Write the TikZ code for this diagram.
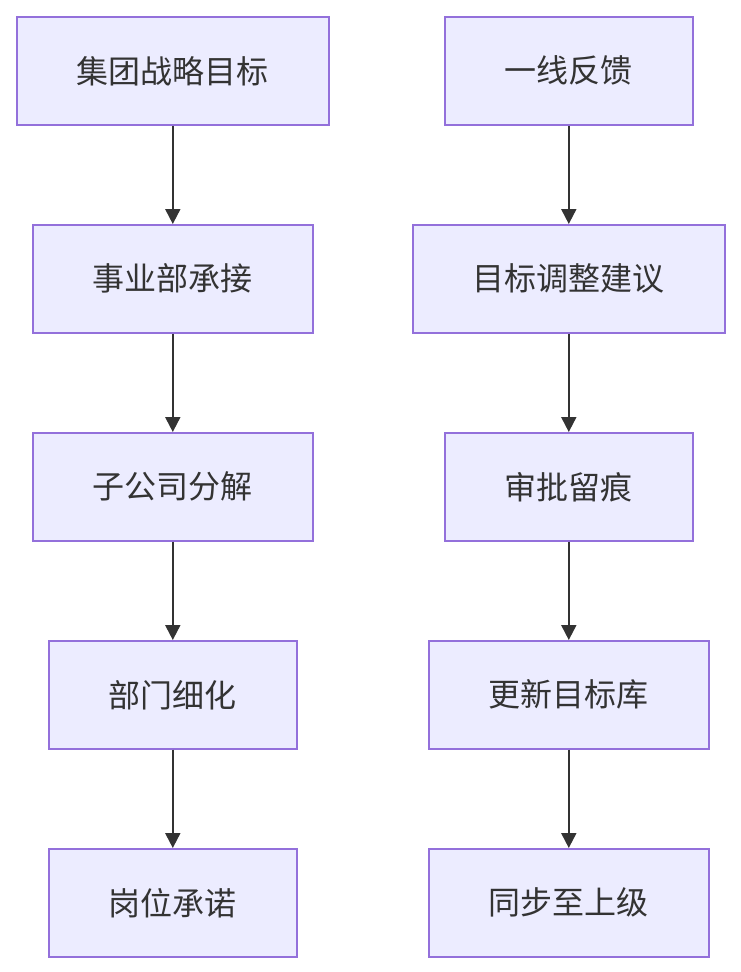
\documentclass[tikz,border=0pt]{standalone}
\usepackage{fontspec}
\newfontfamily\cjk{Noto Sans CJK SC}
\usetikzlibrary{arrows.meta}
\definecolor{boxfill}{HTML}{ECECFF}
\definecolor{boxline}{HTML}{9370DB}
\definecolor{ink}{HTML}{333333}
\tikzset{
  stepbox/.style={draw=boxline, fill=boxfill, line width=1.6pt, rectangle, anchor=north west, inner sep=0pt, text=ink, font=\cjk\fontsize{32}{38}\selectfont},
  flow/.style={draw=ink, line width=2pt, -{Triangle[length=15pt,width=15pt]}}
}
\newcommand{\mybox}[6]{%
  \node[stepbox, minimum width=#4pt, minimum height=#5pt] (#1) at (#2pt,-#3pt) {#6};}
\begin{document}
\begin{tikzpicture}
\useasboundingbox (0,0) rectangle (740pt,-972pt);
\mybox{l1}{16}{16}{312}{108}{集团战略目标}
\mybox{l2}{32}{224}{280}{108}{事业部承接}
\mybox{l3}{32}{432}{280}{108}{子公司分解}
\mybox{l4}{48}{640}{248}{108}{部门细化}
\mybox{l5}{48}{848}{248}{108}{岗位承诺}
\mybox{r1}{444}{16}{248}{108}{一线反馈}
\mybox{r2}{412}{224}{312}{108}{目标调整建议}
\mybox{r3}{444}{432}{248}{108}{审批留痕}
\mybox{r4}{428}{640}{280}{108}{更新目标库}
\mybox{r5}{428}{848}{280}{108}{同步至上级}
\foreach \a/\b in {l1/l2,l2/l3,l3/l4,l4/l5,r1/r2,r2/r3,r3/r4,r4/r5}
  \draw[flow] (\a.south) -- (\b.north);
\end{tikzpicture}
\end{document}
